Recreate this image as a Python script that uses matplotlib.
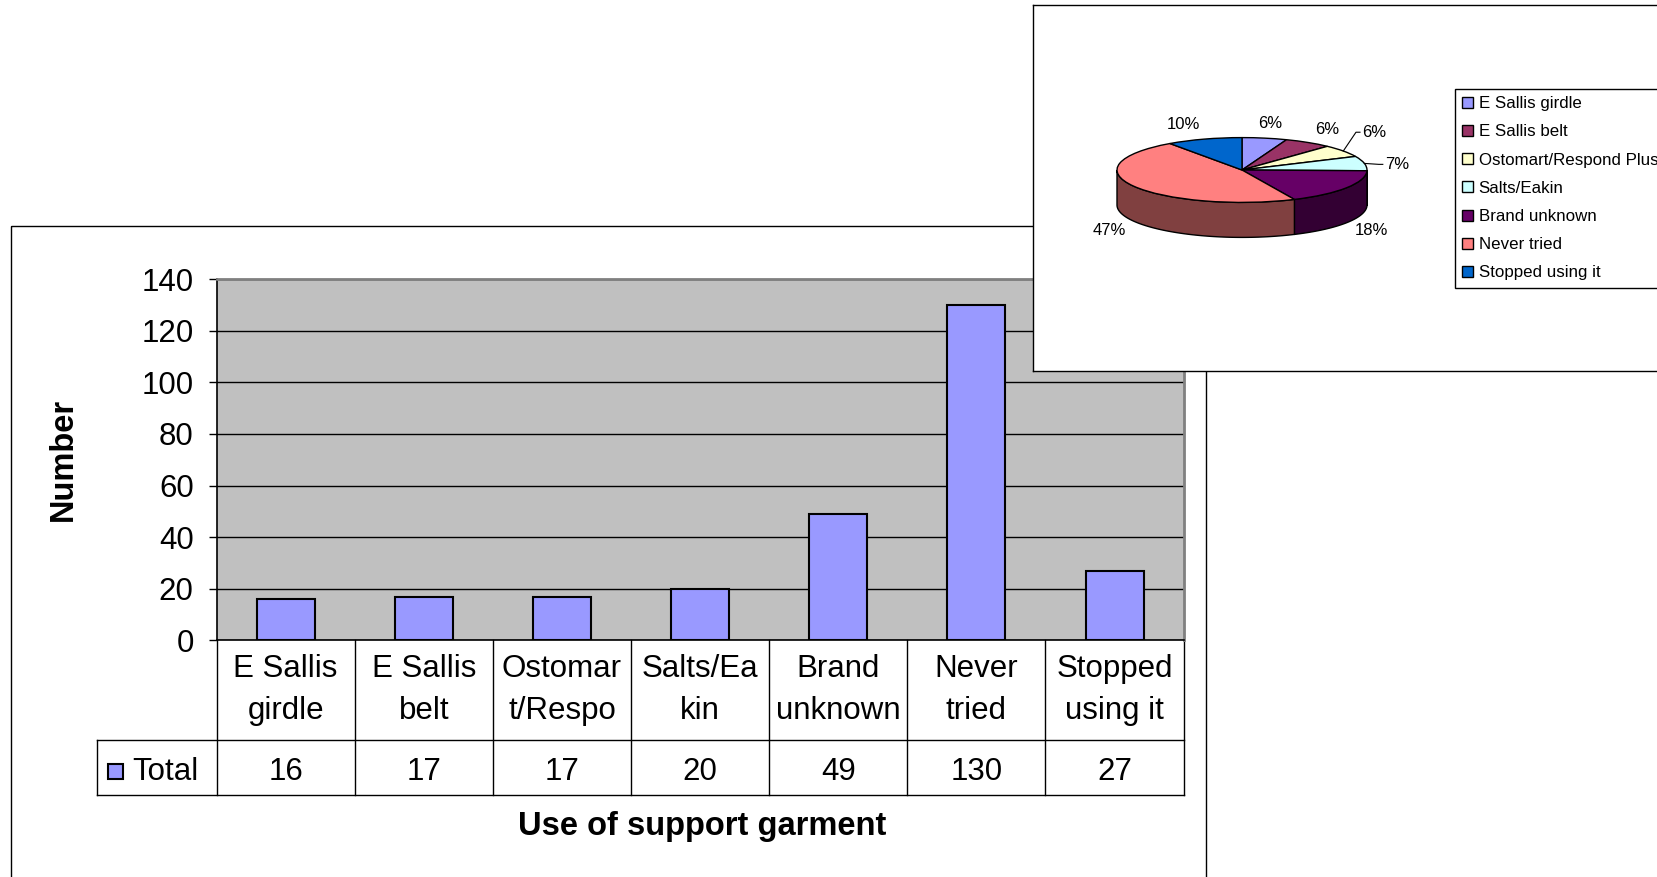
import matplotlib
matplotlib.use('Agg')
import matplotlib.pyplot as plt
import numpy as np
from matplotlib.transforms import Affine2D, blended_transform_factory
from matplotlib.patches import Rectangle, Polygon
from matplotlib.lines import Line2D
from matplotlib.colors import to_rgb

# ---------------- data ----------------
categories = ["E Sallis girdle", "E Sallis belt", "Ostomart/Respond Plus", "Salts/Eakin",
              "Brand unknown", "Never tried", "Stopped using it"]
table_labels = ["E Sallis\ngirdle", "E Sallis\nbelt", "Ostomar\nt/Respo", "Salts/Ea\nkin",
                "Brand\nunknown", "Never\ntried", "Stopped\nusing it"]
totals = [16, 17, 17, 20, 49, 130, 27]
series_name = "Total"
y_ticks = [0, 20, 40, 60, 80, 100, 120, 140]
x_title = "Use of support garment"
y_title = "Number"

# ---------------- styles ----------------
bar_color = "#9999FF"
pie_colors = ["#9999FF", "#993366", "#FFFFCC", "#CCFFFF", "#660066", "#FF8080", "#0066CC"]

W, H = 1657, 877
plt.rcParams['font.family'] = ['Liberation Sans', 'DejaVu Sans']
fig = plt.figure(figsize=(W / 100, H / 100), dpi=100)
fig.patch.set_facecolor('white')
pixT = Affine2D().scale(1 / W, -1 / H).translate(0, 1) + fig.transFigure


def px_axes(l, t, r, b, **kw):
    return fig.add_axes([l / W, 1 - b / H, (r - l) / W, (b - t) / H], **kw)


# ---------------- bar chart ----------------
fig.add_artist(Rectangle((10.6, 226), 1206 - 10.6, 700, transform=pixT, fill=False,
                         edgecolor='black', lw=1, zorder=0.5))

ax = px_axes(216.6, 279, 1183.6, 640.4, zorder=1)
ax.set_facecolor('#C0C0C0')
x = np.arange(len(totals))
ax.bar(x, totals, width=0.42, color=bar_color, edgecolor='black', linewidth=1.5, zorder=3)
ax.set_xlim(-0.5, len(totals) - 0.5)
ax.set_ylim(0, 140)
ax.set_yticks(y_ticks)
ax.yaxis.grid(True, color='black', lw=1)
ax.set_axisbelow(True)
ax.tick_params(axis='y', direction='out', length=5.5, width=1, labelsize=22.5, pad=11)
ax.tick_params(axis='x', length=0, labelbottom=False)
for s in ['top', 'right']:
    ax.spines[s].set_color('#808080')
    ax.spines[s].set_linewidth(2)
for s in ['left', 'bottom']:
    ax.spines[s].set_color('black')
    ax.spines[s].set_linewidth(1.2)

# data table under the axis
bt = blended_transform_factory(ax.transData, pixT)
row1_top, row1_bot, row2_bot = 640.4, 739.8, 794.7
for i in range(len(totals) + 1):
    xb = i - 0.5
    ax.add_line(Line2D([xb, xb], [row1_top, row2_bot], transform=bt, color='black', lw=1,
                       clip_on=False))
fig.add_artist(Line2D([97, 1183.6], [row1_bot, row1_bot], transform=pixT, color='black', lw=1))
fig.add_artist(Line2D([97, 1183.6], [row2_bot, row2_bot], transform=pixT, color='black', lw=1))
fig.add_artist(Line2D([97, 97], [row1_bot, row2_bot], transform=pixT, color='black', lw=1))
for i, (lab, v) in enumerate(zip(table_labels, totals)):
    ax.text(i, 690, lab, transform=bt, ha='center', va='center', fontsize=22.5,
            linespacing=1.55, clip_on=False)
    ax.text(i, 772, str(v), transform=bt, ha='center', va='center', fontsize=22.5,
            clip_on=False)
fig.add_artist(Rectangle((108, 764), 15, 15, transform=pixT, facecolor=bar_color,
                         edgecolor='black', lw=1.5))
fig.text(132, 772, series_name, transform=pixT, ha='left', va='center', fontsize=22.5)

fig.text(702, 826, x_title, transform=pixT, ha='center', va='center', fontsize=23.5,
         fontweight='bold')
fig.text(63, 459, y_title, transform=pixT, ha='center', va='center', fontsize=23.5,
         fontweight='bold', rotation=90)

# ---------------- 3D pie chart ----------------
cx, cy, rx, ry = 1242, 170, 125, 32.4
depth_px = 35
pl, pt, pr, pb = 1033, 5, 1720, 371
pax = px_axes(pl, pt, pr, pb, zorder=5)
pax.set_facecolor('white')

wedges, _ = pax.pie(totals, colors=pie_colors, startangle=90, counterclock=False, radius=1,
                    center=(0, 0), wedgeprops=dict(edgecolor='black', linewidth=1), frame=True)
pax.set_aspect('auto')
pax.set_xlim((pl - cx) / rx, (pr - cx) / rx)
pax.set_ylim(-(pb - cy) / ry, (cy - pt) / ry)
pax.set_xticks([])
pax.set_yticks([])
for s in pax.spines.values():
    s.set_color('black')
    s.set_linewidth(1)

depth = depth_px / ry


def darken(c, f=0.5):
    r, g, b = to_rgb(c)
    return (r * f, g * f, b * f)


for w, c in zip(wedges, pie_colors):
    t1, t2 = w.theta1, w.theta2
    for lo, hi in [(-540, -360), (-180, 0), (180, 360)]:
        a, b = max(t1, lo), min(t2, hi)
        if b > a:
            t = np.radians(np.linspace(a, b, 80))
            xs = np.concatenate([np.cos(t), np.cos(t[::-1])])
            ys = np.concatenate([np.sin(t), np.sin(t[::-1]) - depth])
            pax.add_patch(Polygon(np.column_stack([xs, ys]), closed=True,
                                  facecolor=darken(c), edgecolor='black', lw=1, zorder=0.9))

# percentage labels
total_sum = sum(totals)
ux, uy = 1 / rx, 1 / ry
label_nudge_px = [(0, 0), (4, 0), (8, -10), (5, 4), (2, 0), (0, 2), (-12, 0)]
leader = [False, False, True, True, False, False, False]
for i, (w, v) in enumerate(zip(wedges, totals)):
    m = np.radians((w.theta1 + w.theta2) / 2)
    ex, ey = np.cos(m), np.sin(m)
    if ey < 0:
        ey -= depth
    lx = ex + 28 * ux * np.cos(m) + label_nudge_px[i][0] * ux
    ly = ey + 15 * uy * np.sin(m) - label_nudge_px[i][1] * uy
    txt = f"{round(v / total_sum * 100):d}%"
    pax.text(lx, ly, txt, ha='center', va='center', fontsize=12)
    if leader[i]:
        left = lx - 13 * ux
        pax.plot([ex, left - 5 * ux, left - 1 * ux], [ey, ly, ly], color='black', lw=0.8)

leg = pax.legend(wedges, categories, loc='upper left', bbox_to_anchor=(1455, 89),
                 bbox_transform=pixT, fontsize=12.2, frameon=True, fancybox=False,
                 edgecolor='black', framealpha=1, borderaxespad=0, borderpad=0.42,
                 handlelength=0.62, handleheight=0.62, handletextpad=0.35, labelspacing=0.78)
leg.get_frame().set_linewidth(1)

fig.savefig('out.png', dpi=100)
